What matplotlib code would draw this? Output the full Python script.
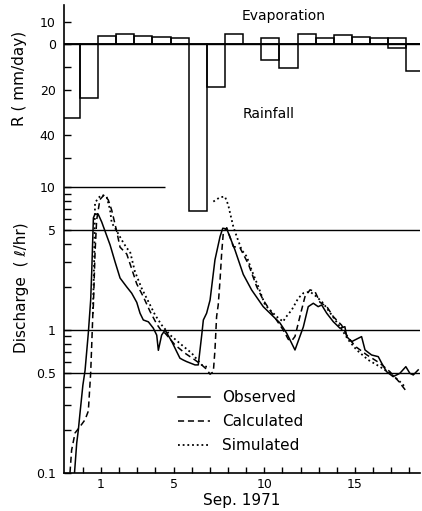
import numpy as np
import matplotlib.pyplot as plt

# daily rainfall / evaporation (mm/day), one bar per day from Aug 30 (-1) to Sep 18
days = np.arange(-1, 19)
rain = [32.3, 23.8, 0, 0, 0, 0, 0, 73.7, 19.0, 0, 0, 6.9, 10.3, 0, 0, 0, 0, 0, 1.5, 11.6]
evap = [0, 0, 3.8, 4.7, 3.7, 3.1, 2.6, 0, 0, 4.4, 0, 2.6, 0, 4.7, 2.9, 4.0, 3.1, 2.6, 2.9, 0]

# discharge (l/hr)
obs_day = [-0.46, -0.34, -0.25, -0.16, 0.0, 0.12, 0.30, 0.43, 0.49, 0.58, 0.67, 0.85, 1.04, 1.13,
           1.50, 1.77, 2.05, 2.42, 2.69, 2.97, 3.15, 3.33, 3.61, 3.88, 4.07, 4.16, 4.34, 4.53,
           4.90, 5.17, 5.35, 5.53, 5.72, 6.18, 6.36, 6.55, 6.64, 6.82, 7.01, 7.28, 7.56, 7.71,
           7.93, 8.38, 8.84, 9.30, 9.94, 10.86, 11.23, 11.69, 12.15, 12.42, 12.70, 12.97, 13.16,
           13.44, 13.80, 14.17, 14.44, 14.54, 14.81, 15.18, 15.36, 15.55, 15.91, 16.28, 16.47,
           16.74, 17.10, 17.47, 17.80, 18.02, 18.21, 18.48]
obs_q = [0.1, 0.161, 0.199, 0.26, 0.41, 0.52, 0.95, 1.62, 2.6, 6.1, 6.5, 6.45, 5.7, 5.3,
         3.94, 3.01, 2.31, 2.0, 1.81, 1.56, 1.31, 1.175, 1.14, 1.03, 0.92, 0.72, 0.92, 1.0,
         0.83, 0.705, 0.634, 0.616, 0.60, 0.569, 0.569, 0.92, 1.175, 1.31, 1.62, 3.10, 4.51, 5.16,
         5.1, 3.64, 2.45, 1.907, 1.456, 1.12, 0.95, 0.724, 1.05, 1.456, 1.538, 1.456, 1.497,
         1.309, 1.143, 1.028, 1.054, 0.898, 0.828, 0.875, 0.898, 0.724, 0.668, 0.65, 0.585,
         0.51, 0.471, 0.497, 0.553, 0.497, 0.484, 0.525]

calc_day = [-0.71, -0.62, -0.43, -0.16, 0.12, 0.30, 0.43, 0.49, 0.55, 0.58, 0.67, 0.76, 0.94,
            1.17, 1.40, 1.59, 1.85, 2.05, 2.42, 2.97, 3.33, 3.70, 4.07, 4.34, 4.53, 5.08, 5.63,
            6.18, 6.55, 6.82, 7.01, 7.19, 7.28, 7.37, 7.46, 7.56, 7.65, 7.74, 7.93, 8.29, 8.66,
            9.12, 9.58, 9.94, 10.86, 11.04, 11.32, 11.51, 11.69, 11.96, 12.24, 12.52, 12.79,
            13.07, 13.44, 13.80, 14.26, 14.54, 15.00, 15.64, 16.37, 16.92, 17.38, 17.84]
calc_q = [0.1, 0.144, 0.19, 0.21, 0.235, 0.27, 0.5, 0.8, 1.3, 1.5, 3.46, 5.9, 8.2,
          8.83, 8.15, 6.9, 5.0, 3.8, 3.4, 2.1, 1.71, 1.35, 1.1, 0.98, 0.95, 0.785, 0.687,
          0.616, 0.569, 0.53, 0.49, 0.51, 0.724, 1.24, 1.5, 2.24, 3.46, 4.8, 5.2, 3.84, 3.76,
          2.9, 2.01, 1.62, 1.08, 1.0, 0.86, 0.84, 0.90, 1.24, 1.71, 1.91, 1.86,
          1.56, 1.46, 1.24, 1.08, 0.92, 0.77, 0.67, 0.585, 0.51, 0.44, 0.37]

# simulated run has a gap during the Sep 6 storm
sim_day = [0.55, 0.62, 0.67, 0.85, 1.04, 1.31, 1.50, 1.59, 1.77, 2.14, 2.42, 2.60, 2.87, 3.24,
           3.61, 3.98, 4.34, 4.80, 5.45, 6.00, 6.55, 6.73, 7.01, np.nan, 7.19, 7.56, 7.83, 8.01,
           8.11, 8.29, 8.48, 8.75, 9.03, 9.30, 9.67, 10.04, 10.68, 11.04, 11.14, 11.51, 11.87,
           12.15, 12.52, 12.88, 13.25, 13.71, 14.17, 14.63, 15.09, 15.73, 16.37, 16.92, 17.38, 17.75]
sim_q = [1.3, 3.0, 7.76, 8.41, 8.83, 8.59, 6.93, 5.62, 5.19, 4.27, 3.74, 3.54, 2.56, 1.96,
         1.58, 1.274, 1.084, 0.923, 0.785, 0.687, 0.569, 0.553, 0.553, np.nan, 7.93, 8.51, 8.59, 7.52,
         6.61, 5.30, 4.51, 3.64, 3.27, 2.63, 2.01, 1.497, 1.24, 1.143, 1.208, 1.38, 1.668,
         1.81, 1.855, 1.71, 1.538, 1.274, 1.054, 0.851, 0.724, 0.616, 0.553, 0.497, 0.446, 0.40]

q_ticks = [0.1, 0.5, 1, 5, 10]
q_ticklabels = ['0.1', '0.5', '1', '5', '10']
r_ticks = [10, 0, -20, -40]
r_ticklabels = ['10', '0', '20', '40']
day_ticks = [1, 5, 10, 15]

plt.rcParams['font.family'] = 'DejaVu Sans'

fig = plt.figure(figsize=(4.22, 5.11), dpi=100)
W, H = 422, 511
rect = [64 / W, (H - 472.7) / H, (420 - 64) / W, (472.7 - 5) / H]

# discharge axis (log)
ax_q = fig.add_axes(rect)
ax_q.set_yscale('log')
ax_q.set_ylim(0.1, 189)
ax_q.set_xlim(-1.04, 18.58)
for s in ['top', 'right']:
    ax_q.spines[s].set_visible(False)
ax_q.spines['left'].set_linewidth(1.2)
ax_q.spines['bottom'].set_linewidth(1.2)

ax_q.hlines(10, -1.04, 4.53, color='k', lw=1.0)
for v in [5, 1, 0.5]:
    ax_q.axhline(v, color='k', lw=1.0)

ax_q.plot(obs_day, obs_q, color='k', lw=1.1, label='Observed')
ax_q.plot(calc_day, calc_q, color='k', lw=1.1, linestyle=(0, (4, 2.5)), label='Calculated')
ax_q.plot(sim_day, sim_q, color='k', lw=1.3, linestyle=(0, (1, 1.6)), label='Simulated')

ax_q.set_yticks(q_ticks)
ax_q.set_yticklabels(q_ticklabels)
ax_q.set_yticks([0.2, 0.3, 0.4, 0.6, 0.7, 0.8, 0.9, 2, 3, 4, 6, 7, 8, 9], minor=True)
ax_q.yaxis.set_minor_formatter(plt.NullFormatter())
ax_q.set_xticks(np.arange(0, 19))
ax_q.set_xticklabels([str(d) if d in day_ticks else '' for d in range(0, 19)])
ax_q.tick_params(axis='y', which='both', direction='in', length=5, width=1, labelsize=9, pad=6)
ax_q.tick_params(axis='x', direction='in', length=4, width=1, labelsize=9, pad=4)
ax_q.set_xlabel('Sep. 1971', fontsize=11, labelpad=1)

leg = ax_q.legend(loc='upper left', bbox_to_anchor=(178 / W, 1 - 390 / H),
                  bbox_transform=fig.transFigure, frameon=False, fontsize=11,
                  handlelength=2.1, handletextpad=0.8, labelspacing=0.6,
                  borderpad=0, borderaxespad=0)

# rainfall / evaporation axis drawn over the same area
ax_r = fig.add_axes(rect)
ax_r.patch.set_visible(False)
for s in ax_r.spines.values():
    s.set_visible(False)
ax_r.set_xlim(-1.04, 18.58)
ax_r.set_ylim(-188.9, 17.3)
ax_r.axhline(0, color='k', lw=1.0)

left = days - 0.17
ax_r.bar(left, -np.array(rain), width=1, align='edge', fill=False, edgecolor='k', lw=1.1)
ax_r.bar(left, evap, width=1, align='edge', fill=False, edgecolor='k', lw=1.1)

ax_r.set_yticks(r_ticks)
ax_r.set_yticklabels(r_ticklabels)
ax_r.set_yticks([-10, -50], minor=True)
ax_r.tick_params(axis='y', which='both', direction='in', length=5, width=1, labelsize=9, pad=6)
ax_r.xaxis.set_visible(False)

ax_r.text(8.77, 12.5, 'Evaporation', fontsize=10, va='center', ha='left')
ax_r.text(8.82, -30.7, 'Rainfall', fontsize=10, va='center', ha='left')

fig.text(20 / W, 1 - 78 / H, 'R ( mm/day)', rotation=90, ha='center', va='center', fontsize=11)
fig.text(22 / W, 1 - 288 / H, 'Discharge  ( \u2113/hr)', rotation=90, ha='center', va='center',
         fontsize=11)

fig.savefig('out.png', dpi=100)
